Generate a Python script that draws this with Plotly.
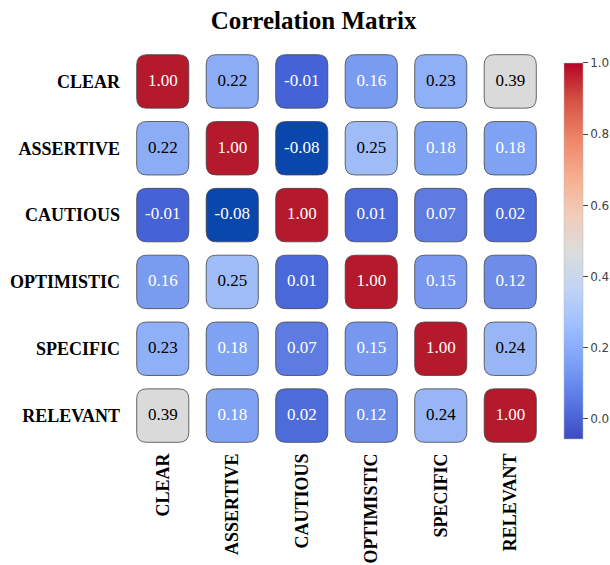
import plotly.graph_objects as go
from plotly.colors import sample_colorscale

labels = ["CLEAR", "ASSERTIVE", "CAUTIOUS", "OPTIMISTIC", "SPECIFIC", "RELEVANT"]
corr = [
    [1.00, 0.22, -0.01, 0.16, 0.23, 0.39],
    [0.22, 1.00, -0.08, 0.25, 0.18, 0.18],
    [-0.01, -0.08, 1.00, 0.01, 0.07, 0.02],
    [0.16, 0.25, 0.01, 1.00, 0.15, 0.12],
    [0.23, 0.18, 0.07, 0.15, 1.00, 0.24],
    [0.39, 0.18, 0.02, 0.12, 0.24, 1.00],
]
cbar_ticks = [0.0, 0.2, 0.4, 0.6, 0.8, 1.0]

# colour scale for the colour bar (coolwarm)
coolwarm = [
    [0.0, "#3b4cc0"], [0.1, "#5977e3"], [0.2, "#7b9ff9"], [0.3, "#9ebeff"],
    [0.4, "#c0d4f5"], [0.5, "#dddcdc"], [0.6, "#f2cbb7"], [0.7, "#f7ac8e"],
    [0.8, "#ee8468"], [0.9, "#d65244"], [1.0, "#b40426"],
]
cbar_min, cbar_max = -0.056, 1.0

# colour scale used for the cell fills (value anchors over [-0.08, 1])
cell_min, cell_max = -0.08, 1.0
cell_anchor_vals = [-0.08, -0.01, 0.07, 0.16, 0.23, 0.25, 0.39, 0.6, 0.8, 1.0]
cell_anchor_cols = ["#0a47ad", "#4562d6", "#5d7be0", "#7a9cf0", "#8fb0f6",
                    "#a0bcf7", "#dadada", "#f2b49a", "#e0705a", "#b5192c"]
cell_scale = [[(v - cell_min) / (cell_max - cell_min), c]
              for v, c in zip(cell_anchor_vals, cell_anchor_cols)]

n = len(labels)
W, H = 0.75, 0.80      # box size as fraction of a cell
RX, RY = 0.145, 0.15    # corner radius in data units

fig = go.Figure()
shapes = []
tx, ty, tt, tc = [], [], [], []
for i in range(n):
    for j in range(n):
        v = corr[i][j]
        col = sample_colorscale(cell_scale, [(v - cell_min) / (cell_max - cell_min)],
                                colortype="rgb")[0]
        x0, x1 = j - W / 2, j + W / 2
        y0, y1 = i - H / 2, i + H / 2
        path = (f"M {x0+RX},{y0} L {x1-RX},{y0} Q {x1},{y0} {x1},{y0+RY} "
                f"L {x1},{y1-RY} Q {x1},{y1} {x1-RX},{y1} "
                f"L {x0+RX},{y1} Q {x0},{y1} {x0},{y1-RY} "
                f"L {x0},{y0+RY} Q {x0},{y0} {x0+RX},{y0} Z")
        shapes.append(dict(type="path", path=path, xref="x", yref="y",
                           fillcolor=col, line=dict(color="#444444", width=0.8),
                           layer="below"))
        rgb = [float(c) for c in col[col.find("(") + 1:-1].split(",")]
        lum = 0.299 * rgb[0] + 0.587 * rgb[1] + 0.114 * rgb[2]
        tx.append(j)
        ty.append(i)
        tt.append(f"{v:.2f}")
        tc.append("white" if lum < 162 else "black")

fig.add_trace(go.Scatter(
    x=tx, y=ty, mode="text", text=tt,
    textfont=dict(family="Liberation Serif", size=17, color=tc),
    hoverinfo="skip", showlegend=False))

# invisible markers that carry the colour bar
fig.add_trace(go.Scatter(
    x=tx, y=ty, mode="markers",
    marker=dict(size=0.1, opacity=0, color=[corr[i][j] for i in range(n) for j in range(n)],
                colorscale=coolwarm, cmin=cbar_min, cmax=cbar_max, showscale=True,
                colorbar=dict(
                    thickness=19, lenmode="pixels", len=376, xpad=0, ypad=0,
                    x=1.0456, xanchor="left", y=0.494, yanchor="middle",
                    outlinewidth=0.5, outlinecolor="#bbbbbb",
                    tickvals=cbar_ticks, ticktext=[f"{t:.1f}" for t in cbar_ticks],
                    ticks="outside", ticklen=5, tickcolor="#444444", tickwidth=1,
                    tickfont=dict(family="DejaVu Sans", size=12, color="#444444"),
                )),
    hoverinfo="skip", showlegend=False))

fig.update_layout(
    width=610, height=565,
    margin=dict(l=128, r=65, t=48, b=116, autoexpand=False),
    paper_bgcolor="white", plot_bgcolor="white",
    shapes=shapes,
    title=dict(text="Correlation Matrix", x=0.514, xref="container", xanchor="center",
               y=0.9646, yref="container", yanchor="middle",
               font=dict(family="Liberation Serif", size=25, color="black", weight="bold")),
    showlegend=False,
)
fig.update_xaxes(range=[-0.5, n - 0.5], tickvals=list(range(n)), ticktext=labels,
                 tickangle=-90, showgrid=False, zeroline=False, showline=False,
                 ticks="", automargin=False, fixedrange=True,
                 tickfont=dict(family="Liberation Serif", size=18, color="black", weight="bold"))
fig.update_yaxes(range=[n - 0.5, -0.5], tickvals=list(range(n)), ticktext=labels,
                 showgrid=False, zeroline=False, showline=False,
                 ticks="", automargin=False, fixedrange=True, ticklabelstandoff=7,
                 tickfont=dict(family="Liberation Serif", size=18, color="black", weight="bold"))

fig.write_html("out.html", config={"displayModeBar": False},
               post_script="document.body.style.margin='0';document.body.style.overflow='hidden';")
